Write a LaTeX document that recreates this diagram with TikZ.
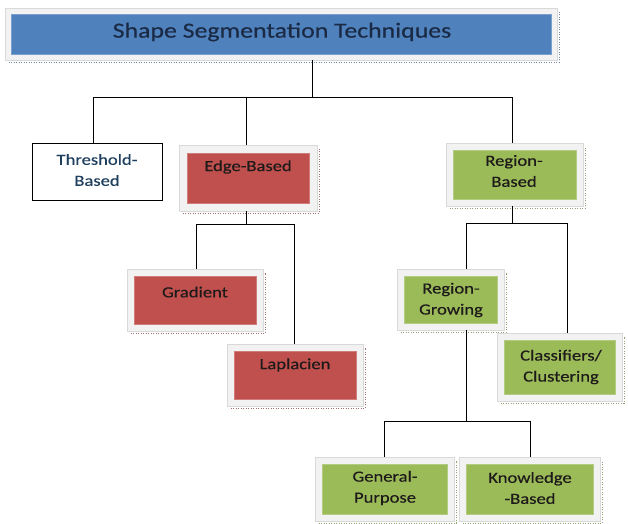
\documentclass[tikz,border=0pt]{standalone}
\usepackage{fontspec}
\setmainfont{Carlito}[FakeStretch=1.2, FakeBold=0.35]
\usetikzlibrary{calc}
\definecolor{titleblue}{HTML}{4F81BD}
\definecolor{edgered}{HTML}{C0504D}
\definecolor{leafgreen}{HTML}{9BBB59}
\definecolor{framegray}{HTML}{F2F2F2}
\definecolor{shadowgray}{HTML}{8C8C8C}
\definecolor{textdark}{HTML}{1E1A1A}
\definecolor{textnavy}{HTML}{1B2A44}
\definecolor{textblue}{HTML}{1F3F5F}
\tikzset{
  frame/.style={draw=black!15, line width=0.6pt, fill=framegray, inner sep=0pt},
  panel/.style={draw=#1!75!white, line width=0.5pt, fill=#1, inner sep=0pt},
  shadowline/.style={draw=#1!45!shadowgray, line width=1.4pt, dash pattern=on 1.2pt off 1.3pt},
  lbl/.style={font=\fontsize{15.5}{21}\selectfont, text=textdark, align=center, inner sep=0pt},
  link/.style={draw=black, line width=1pt},
}
% \segbox{name}{x1}{y1}{x2}{y2}{margin}{colour}
\newcommand\segbox[7]{%
  \node[frame, minimum width={#4pt-#2pt}, minimum height={#5pt-#3pt}]
    (#1) at ({(#2+#4)/2},{(#3+#5)/2}) {};
  \draw[shadowline=#7] ($(#1.south west)+(4,2)$) -| ($(#1.north east)+(2,4)$);
  \node[panel=#7, minimum width={#4pt-#2pt-2*#6pt}, minimum height={#5pt-#3pt-2*#6pt}]
    (#1-in) at (#1) {};
}
\begin{document}
\begin{tikzpicture}[x=1pt, y=-1pt]
\useasboundingbox (0,0) rectangle (628,523);
\fill[white] (0,0) rectangle (628,523);

% boxes
\segbox{title}{5}{8}{557}{60}{6}{titleblue}
\node[lbl, text=textnavy, font=\fontsize{21.5}{24}\selectfont] (titletxt) at (282,32) {Shape Segmentation Techniques};

\node[draw=black, line width=1pt, minimum width=130pt, minimum height=57pt, inner sep=0pt]
  (thresh) at (97,171.5) {};
\node[lbl, text=textblue] (threshtxt) at (97,170) {Threshold-\\Based};

\segbox{edge}{179}{145}{317}{211}{8}{edgered}
\node[lbl] (edgetxt) at (248,167) {Edge-Based};

\segbox{region}{446}{143}{583}{206}{7}{leafgreen}
\node[lbl] (regiontxt) at (514,171) {Region-\\Based};

\segbox{grad}{127}{269}{263}{331}{7}{edgered}
\node[lbl] (gradtxt) at (195,292) {Gradient};

\segbox{lap}{227}{344}{363}{406}{7}{edgered}
\node[lbl] (laptxt) at (295,365) {Laplacien};

\segbox{grow}{397}{269}{504}{330}{7}{leafgreen}
\node[lbl] (growtxt) at (451,300) {Region-\\Growing};

\segbox{class}{497}{333}{622}{401}{7}{leafgreen}
\node[lbl] (classtxt) at (561,367) {Classifiers/\\Clustering};

\segbox{gen}{315}{457}{454}{521}{7}{leafgreen}
\node[lbl] (gentxt) at (385,488) {General-\\Purpose};

\segbox{know}{459}{457}{600}{521}{7}{leafgreen}
\node[lbl] (knowtxt) at (530,488) {Knowledge\\-Based};

% connectors: title level
\coordinate (j0) at (312,97);
\coordinate (j0a) at (93,97);
\coordinate (j0b) at (246,97);
\coordinate (j0c) at (512,97);
\draw[link] (title.south -| j0) -- (j0);
\draw[link] (j0a |- thresh.north) -- (j0a) -- (j0c) -- (j0c |- region.north);
\draw[link] (j0b) -- (j0b |- edge.north);

% edge-based branch
\coordinate (j1) at (246,224);
\coordinate (j1a) at (196,224);
\coordinate (j1b) at (294,224);
\draw[link] (edge.south -| j1) -- (j1);
\draw[link] (j1a |- grad.north) -- (j1a) -- (j1b) -- (j1b |- lap.north);

% region-based branch
\coordinate (j2) at (512,223);
\coordinate (j2a) at (466,223);
\coordinate (j2b) at (567,223);
\draw[link] (region.south -| j2) -- (j2);
\draw[link] (j2a |- grow.north) -- (j2a) -- (j2b) -- (j2b |- class.north);

% region-growing branch
\coordinate (j3) at (466,421);
\coordinate (j3a) at (384,421);
\coordinate (j3b) at (530,421);
\draw[link] (grow.south -| j3) -- (j3);
\draw[link] (j3a |- gen.north) -- (j3a) -- (j3b) -- (j3b |- know.north);
\end{tikzpicture}
\end{document}
